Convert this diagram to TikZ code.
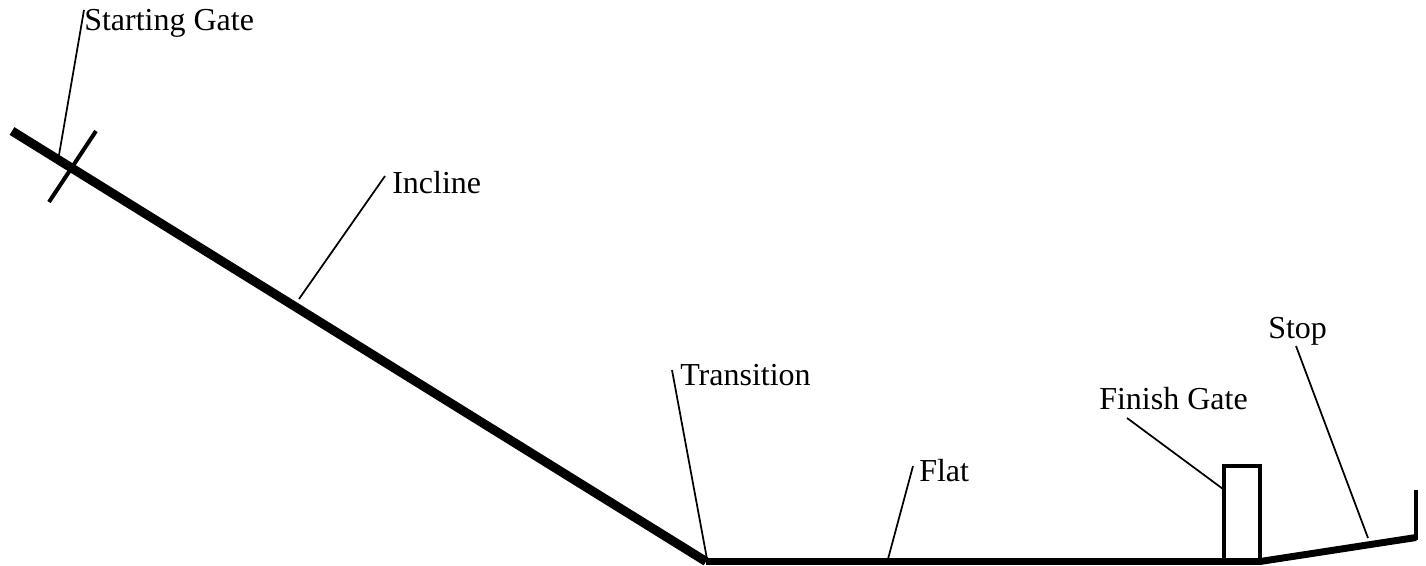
\documentclass[tikz,border=0pt]{standalone}
\usepackage{fontspec}
\setmainfont{Liberation Serif}
\tikzset{
  px/.style={x=0.75pt,y=-0.75pt},
  lbl/.style={anchor=base west,inner sep=0pt,font=\fontsize{24}{28}\selectfont},
  leader/.style={line width=1.3pt},
  heavy/.style={line width=6.8pt},
  flat/.style={line width=5.2pt},
  mid/.style={line width=3pt},
}
\begin{document}
\begin{tikzpicture}[px]
\useasboundingbox (0,0) rectangle (1426,565);
\node[lbl] (sg) at (84,30) {Starting Gate};
\node[lbl] (in) at (392,193) {Incline};
\node[lbl] (tr) at (680,385) {Transition};
\node[lbl] (fl) at (919,481) {Flat};
\node[lbl] (fg) at (1099,409) {Finish Gate};
\node[lbl] (st) at (1268,338) {Stop};
\coordinate (a0) at (12,131);
\coordinate (a1) at (706,561.5);
\coordinate (a2) at (1260,561.5);
\coordinate (a3) at (1416,537.5);
\coordinate (a4) at (1415.5,490);
\coordinate (a5) at (1415.5,540);
\coordinate (g1) at (96,131);
\coordinate (g2) at (49,202);
\coordinate (sg1) at (84,10);
\coordinate (sg2) at (59,155);
\coordinate (in1) at (385,176);
\coordinate (in2) at (299,299);
\coordinate (tr1) at (672,370);
\coordinate (tr2) at (707,559);
\coordinate (fl1) at (913,466);
\coordinate (fl2) at (888,559);
\coordinate (fg1) at (1127,418);
\coordinate (fg2) at (1223,489);
\coordinate (st1) at (1296,346);
\coordinate (st2) at (1368,538);
\draw[heavy] (a0) -- (a1);
\draw[flat] (a1) -- (a2) -- (a3);
\draw[mid] (a4) -- (a5);
\draw[mid] (g1) -- (g2);
\draw[mid] (1224,561) -- (1224,466) -- (1260,466) -- (1260,561);
\draw[leader] (sg1) -- (sg2);
\draw[leader] (in1) -- (in2);
\draw[leader] (tr1) -- (tr2);
\draw[leader] (fl1) -- (fl2);
\draw[leader] (fg1) -- (fg2);
\draw[leader] (st1) -- (st2);
\end{tikzpicture}
\end{document}
